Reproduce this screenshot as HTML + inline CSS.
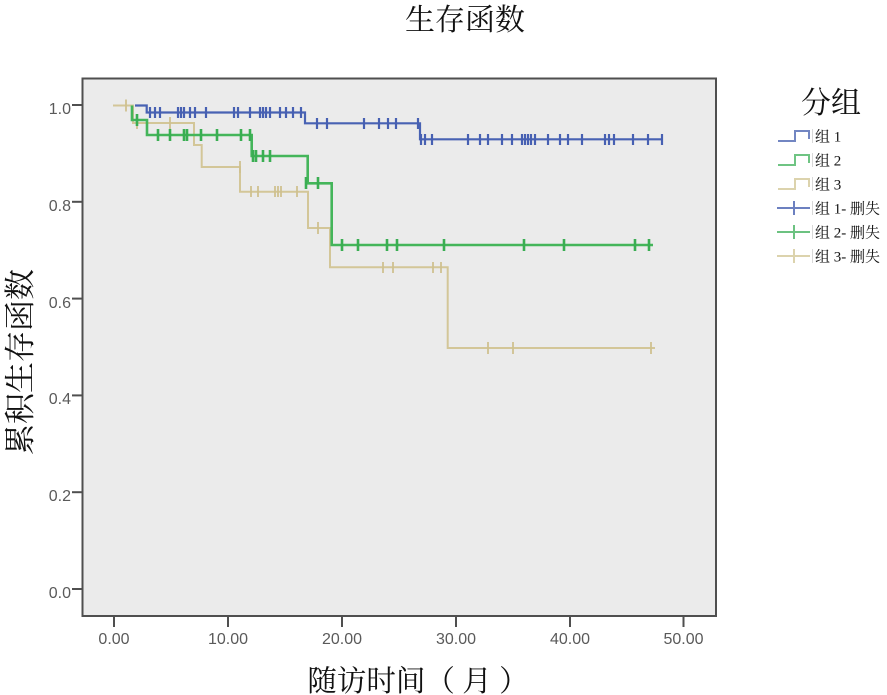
<!DOCTYPE html>
<html><head><meta charset="utf-8"><style>
html,body{margin:0;padding:0;background:#fff;}
svg{display:block;}
.tk{font-family:"Liberation Sans",sans-serif;font-size:16px;fill:#5a5a5a;}
.cj{font-family:"Liberation Serif","Noto Serif CJK SC",serif;fill:#111;}
</style></head><body>
<svg width="887" height="695" viewBox="0 0 887 695" xmlns="http://www.w3.org/2000/svg">
<rect x="0" y="0" width="887" height="695" fill="#fff"/>
<text class="cj" x="465" y="30" font-size="30" text-anchor="middle">生存函数</text>
<rect x="82.5" y="78.5" width="633.5" height="537.5" fill="#ebebeb" stroke="#4f4f4f" stroke-width="2"/>
<g stroke="#4f4f4f" stroke-width="2">
<line x1="72" y1="105" x2="82" y2="105"/>
<line x1="72" y1="201.8" x2="82" y2="201.8"/>
<line x1="72" y1="298.6" x2="82" y2="298.6"/>
<line x1="72" y1="395.4" x2="82" y2="395.4"/>
<line x1="72" y1="492.2" x2="82" y2="492.2"/>
<line x1="72" y1="589" x2="82" y2="589"/>
</g>
<g class="tk" text-anchor="end">
<text x="71" y="114">1.0</text>
<text x="71" y="211">0.8</text>
<text x="71" y="308">0.6</text>
<text x="71" y="404">0.4</text>
<text x="71" y="501">0.2</text>
<text x="71" y="598">0.0</text>
</g>
<g stroke="#4f4f4f" stroke-width="2">
<line x1="114" y1="616" x2="114" y2="627"/>
<line x1="228" y1="616" x2="228" y2="627"/>
<line x1="342" y1="616" x2="342" y2="627"/>
<line x1="456" y1="616" x2="456" y2="627"/>
<line x1="570" y1="616" x2="570" y2="627"/>
<line x1="683.5" y1="616" x2="683.5" y2="627"/>
</g>
<g class="tk" text-anchor="middle">
<text x="114" y="644">0.00</text>
<text x="228" y="644">10.00</text>
<text x="342" y="644">20.00</text>
<text x="456" y="644">30.00</text>
<text x="570" y="644">40.00</text>
<text x="683.5" y="644">50.00</text>
</g>
<text class="cj" x="418" y="691" font-size="29.5" text-anchor="middle" xml:space="preserve">随访时间（ 月 ）</text>
<text class="cj" transform="translate(31,362) rotate(-90)" font-size="31" text-anchor="middle">累积生存函数</text>

<path d="M113,105.5 H133 V123 H194 V145 H201.7 V167 H240 V191.7 H308 V228 H330 V267.3 H447.7 V348 H655" fill="none" stroke="#d3c698" stroke-width="2"/>
<g stroke="#cfc190" stroke-width="1.8">
<line x1="126" y1="99.5" x2="126" y2="111.5"/>
<line x1="137" y1="117" x2="137" y2="129"/>
<line x1="170" y1="117" x2="170" y2="129"/>
<line x1="240" y1="161" x2="240" y2="173"/>
<line x1="251" y1="186" x2="251" y2="197"/>
<line x1="258" y1="186" x2="258" y2="197"/>
<line x1="275" y1="186" x2="275" y2="197"/>
<line x1="278" y1="186" x2="278" y2="197"/>
<line x1="281" y1="186" x2="281" y2="197"/>
<line x1="297" y1="186" x2="297" y2="197"/>
<line x1="318" y1="222" x2="318" y2="234"/>
<line x1="383" y1="262" x2="383" y2="273"/>
<line x1="393" y1="262" x2="393" y2="273"/>
<line x1="433" y1="262" x2="433" y2="273"/>
<line x1="441" y1="262" x2="441" y2="273"/>
<line x1="488" y1="342" x2="488" y2="354"/>
<line x1="513" y1="342" x2="513" y2="354"/>
<line x1="651" y1="342" x2="651" y2="354"/>
</g>

<path d="M132,105.5 V120 H147 V135 H251.7 V156 H307.7 V183.3 H331.7 V245 H653" fill="none" stroke="#44b55a" stroke-width="2.6"/>
<g stroke="#3aae52" stroke-width="2.6">
<line x1="137" y1="114" x2="137" y2="126"/>
<line x1="158" y1="129" x2="158" y2="141"/>
<line x1="170" y1="129" x2="170" y2="141"/>
<line x1="184" y1="129" x2="184" y2="141"/>
<line x1="187" y1="129" x2="187" y2="141"/>
<line x1="201" y1="129" x2="201" y2="141"/>
<line x1="217" y1="129" x2="217" y2="141"/>
<line x1="241" y1="129" x2="241" y2="141"/>
<line x1="250" y1="129" x2="250" y2="141"/>
<line x1="253" y1="150" x2="253" y2="162"/>
<line x1="256" y1="150" x2="256" y2="162"/>
<line x1="263" y1="150" x2="263" y2="162"/>
<line x1="270" y1="150" x2="270" y2="162"/>
<line x1="306" y1="177" x2="306" y2="189"/>
<line x1="318" y1="177" x2="318" y2="189"/>
<line x1="342" y1="239" x2="342" y2="251"/>
<line x1="358" y1="239" x2="358" y2="251"/>
<line x1="387" y1="239" x2="387" y2="251"/>
<line x1="397" y1="239" x2="397" y2="251"/>
<line x1="444" y1="239" x2="444" y2="251"/>
<line x1="524" y1="239" x2="524" y2="251"/>
<line x1="564" y1="239" x2="564" y2="251"/>
<line x1="635" y1="239" x2="635" y2="251"/>
<line x1="649" y1="239" x2="649" y2="251"/>
</g>

<path d="M135,105.5 H146.7 V112.5 H305 V123.3 H420 V139.3 H663" fill="none" stroke="#4862b3" stroke-width="2.2"/>
<g stroke="#4760b2" stroke-width="2.2">
<line x1="150" y1="107" x2="150" y2="118"/>
<line x1="155" y1="107" x2="155" y2="118"/>
<line x1="160" y1="107" x2="160" y2="118"/>
<line x1="178" y1="107" x2="178" y2="118"/>
<line x1="181" y1="107" x2="181" y2="118"/>
<line x1="184" y1="107" x2="184" y2="118"/>
<line x1="190" y1="107" x2="190" y2="118"/>
<line x1="195" y1="107" x2="195" y2="118"/>
<line x1="206" y1="107" x2="206" y2="118"/>
<line x1="234" y1="107" x2="234" y2="118"/>
<line x1="238" y1="107" x2="238" y2="118"/>
<line x1="250" y1="107" x2="250" y2="118"/>
<line x1="260" y1="107" x2="260" y2="118"/>
<line x1="263" y1="107" x2="263" y2="118"/>
<line x1="266" y1="107" x2="266" y2="118"/>
<line x1="270" y1="107" x2="270" y2="118"/>
<line x1="280" y1="107" x2="280" y2="118"/>
<line x1="286" y1="107" x2="286" y2="118"/>
<line x1="293" y1="107" x2="293" y2="118"/>
<line x1="301" y1="107" x2="301" y2="118"/>
<line x1="317" y1="118" x2="317" y2="129"/>
<line x1="327" y1="118" x2="327" y2="129"/>
<line x1="364" y1="118" x2="364" y2="129"/>
<line x1="379" y1="118" x2="379" y2="129"/>
<line x1="388" y1="118" x2="388" y2="129"/>
<line x1="396" y1="118" x2="396" y2="129"/>
<line x1="418" y1="118" x2="418" y2="129"/>
<line x1="421" y1="134" x2="421" y2="145"/>
<line x1="425" y1="134" x2="425" y2="145"/>
<line x1="432" y1="134" x2="432" y2="145"/>
<line x1="468" y1="134" x2="468" y2="145"/>
<line x1="480" y1="134" x2="480" y2="145"/>
<line x1="488" y1="134" x2="488" y2="145"/>
<line x1="502" y1="134" x2="502" y2="145"/>
<line x1="512" y1="134" x2="512" y2="145"/>
<line x1="522" y1="134" x2="522" y2="145"/>
<line x1="525" y1="134" x2="525" y2="145"/>
<line x1="528" y1="134" x2="528" y2="145"/>
<line x1="531" y1="134" x2="531" y2="145"/>
<line x1="535" y1="134" x2="535" y2="145"/>
<line x1="548" y1="134" x2="548" y2="145"/>
<line x1="560" y1="134" x2="560" y2="145"/>
<line x1="568" y1="134" x2="568" y2="145"/>
<line x1="582" y1="134" x2="582" y2="145"/>
<line x1="605" y1="134" x2="605" y2="145"/>
<line x1="609" y1="134" x2="609" y2="145"/>
<line x1="614" y1="134" x2="614" y2="145"/>
<line x1="633" y1="134" x2="633" y2="145"/>
<line x1="648" y1="134" x2="648" y2="145"/>
<line x1="662" y1="134" x2="662" y2="145"/>
</g>

<text class="cj" x="831" y="113" font-size="30" text-anchor="middle">分组</text>
<g fill="none" stroke-width="2">
<path d="M778,141 H795 V131 H809 V139" stroke="#7286c2"/>
<path d="M778,165 H795 V155 H809 V163" stroke="#6fc483"/>
<path d="M778,189 H795 V179 H809 V187" stroke="#dcd3ad"/>
<path d="M777,208 H810 M794,201 V215" stroke="#6c80c0"/>
<path d="M777,232 H810 M794,225 V239" stroke="#6cc281"/>
<path d="M777,256 H810 M794,249 V263" stroke="#dcd3ad"/>
</g>
<g stroke="#d8d8d8" stroke-width="1">
<line x1="812.5" y1="129" x2="812.5" y2="143"/>
<line x1="812.5" y1="153" x2="812.5" y2="167"/>
<line x1="812.5" y1="177" x2="812.5" y2="191"/>
<line x1="812.5" y1="201" x2="812.5" y2="215"/>
<line x1="812.5" y1="225" x2="812.5" y2="239"/>
<line x1="812.5" y1="249" x2="812.5" y2="263"/>
</g>
<g class="cj" font-size="15">
<text x="815" y="141.5">组 1</text>
<text x="815" y="165.5">组 2</text>
<text x="815" y="189.5">组 3</text>
<text x="815" y="213.5">组 1- 删失</text>
<text x="815" y="237.5">组 2- 删失</text>
<text x="815" y="261.5">组 3- 删失</text>
</g>
</svg>
</body></html>
